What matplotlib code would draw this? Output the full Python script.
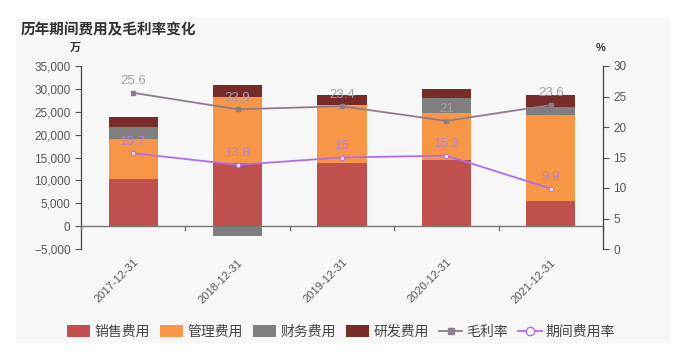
import numpy as np
import matplotlib.pyplot as plt
from matplotlib.patches import Rectangle, FancyBboxPatch
from matplotlib.lines import Line2D
from matplotlib.ticker import FuncFormatter

plt.rcParams['font.family'] = ['Liberation Sans', 'Noto Sans CJK SC']
plt.rcParams['axes.unicode_minus'] = True

# data (万 / %)
years = ['2017-12-31', '2018-12-31', '2019-12-31', '2020-12-31', '2021-12-31']
sales = [10350, 13700, 13700, 14390, 5580]
admin = [8600, 14550, 12800, 10330, 18620]
finance = [2800, -2100, -300, 3380, 1730]
rnd = [2000, 2530, 2150, 1800, 2670]
gross_margin = [25.6, 22.9, 23.4, 21.0, 23.6]
expense_rate = [15.7, 13.8, 15.0, 15.3, 9.9]

bar_names = ['销售费用', '管理费用', '财务费用', '研发费用']
bar_colors = ['#c0504d', '#f79646', '#7f7f7f', '#772c2a']
gm_color = '#8e7c8e'
er_color = '#b26bec'

fig = plt.figure(figsize=[6.74, 3.53], dpi=100)
W, H = 674, 353
fig.patches.append(Rectangle((16 / W, 1 - 343 / H), 654 / W, 325 / H,
                             transform=fig.transFigure, facecolor='#f7f7f7',
                             edgecolor='none', zorder=-5))

ax = fig.add_axes([81 / W, 1 - 249 / H, 522 / W, 183 / H])
ax.patch.set_alpha(0)
x = np.arange(len(years))
width = 0.47

pos_bottom = np.zeros(len(years))
neg_bottom = np.zeros(len(years))
for vals, name, col in zip([sales, admin, finance, rnd], bar_names, bar_colors):
    vals = np.array(vals, dtype=float)
    bottom = np.where(vals >= 0, pos_bottom, neg_bottom)
    ax.bar(x, vals, width, bottom=bottom, color=col, label=name, zorder=2)
    pos_bottom = pos_bottom + np.where(vals >= 0, vals, 0)
    neg_bottom = neg_bottom + np.where(vals < 0, vals, 0)

ax.set_xlim(-0.5, len(years) - 0.5)
ax.set_ylim(-5000, 35000)
ax.set_yticks(range(-5000, 35001, 5000))
ax.yaxis.set_major_formatter(FuncFormatter(lambda v, p: f'{v:,.0f}'.replace('-', '\u2212')))
ax.tick_params(axis='y', labelsize=8.5, colors='#555555', length=4, width=0.8)
for s in ['top', 'right', 'bottom']:
    ax.spines[s].set_visible(False)
ax.spines['left'].set_color('#444444')
ax.spines['left'].set_linewidth(0.9)

# x axis drawn at zero, labels at bottom
ax.axhline(0, color='#777777', lw=1, zorder=3)
for b in np.arange(-0.5, len(years), 1.0):
    ax.plot([b, b], [0, -900], color='#777777', lw=1, zorder=3, clip_on=False)
ax.set_xticks(x)
ax.set_xticklabels(years, rotation=45, ha='right', va='top', rotation_mode='anchor')
ax.tick_params(axis='x', length=0, labelsize=8, colors='#555555', pad=6)

ax.text(-0.01, 1.07, '万', transform=ax.transAxes, fontsize=8, fontweight='bold',
        color='#333333', ha='center', va='bottom')

ax2 = ax.twinx()
ax2.set_ylim(0, 30)
ax2.set_yticks(range(0, 31, 5))
ax2.tick_params(axis='y', labelsize=8.5, colors='#555555', length=4, width=0.8)
for s in ['top', 'left', 'bottom']:
    ax2.spines[s].set_visible(False)
ax2.spines['right'].set_color('#444444')
ax2.spines['right'].set_linewidth(0.9)
ax2.text(0.995, 1.07, '%', transform=ax2.transAxes, fontsize=8, fontweight='bold',
         color='#333333', ha='center', va='bottom')

ax2.plot(x, gross_margin, color=gm_color, lw=1.3, marker='s', ms=3, zorder=4)
ax2.plot(x, expense_rate, color=er_color, lw=1.3, marker='o', ms=3,
         markerfacecolor='white', markeredgecolor=er_color, markeredgewidth=0.8, zorder=4)
for xi, v in zip(x, gross_margin):
    ax2.annotate(f'{v:g}', (xi, v), xytext=(0, 4), textcoords='offset points',
                 ha='center', va='bottom', fontsize=9.5, color='#aa9caa', zorder=5)
for xi, v in zip(x, expense_rate):
    ax2.annotate(f'{v:g}', (xi, v), xytext=(0, 4), textcoords='offset points',
                 ha='center', va='bottom', fontsize=9.5, color='#b77fe0', zorder=5)

fig.text(21 / W, 1 - 30 / H, '历年期间费用及毛利率变化', fontsize=10.5, fontweight='bold',
         color='#333333', ha='left', va='center')

handles = [FancyBboxPatch((0, 0), 1, 1, boxstyle='round,pad=0.1', facecolor=c, edgecolor='none')
           for c in bar_colors]
handles.append(Line2D([], [], color=gm_color, lw=1.3, marker='s', ms=5))
handles.append(Line2D([], [], color=er_color, lw=1.3, marker='o', ms=6,
                      markerfacecolor='white', markeredgecolor=er_color))
labels = bar_names + ['毛利率', '期间费用率']
fig.legend(handles, labels, loc='center', bbox_to_anchor=(341 / W, 1 - 332 / H), ncol=6,
           frameon=False, fontsize=10, handlelength=1.7, handleheight=0.9,
           handletextpad=0.3, columnspacing=0.7, labelcolor='#444444')

fig.savefig('out.png', dpi=100, facecolor='white')
